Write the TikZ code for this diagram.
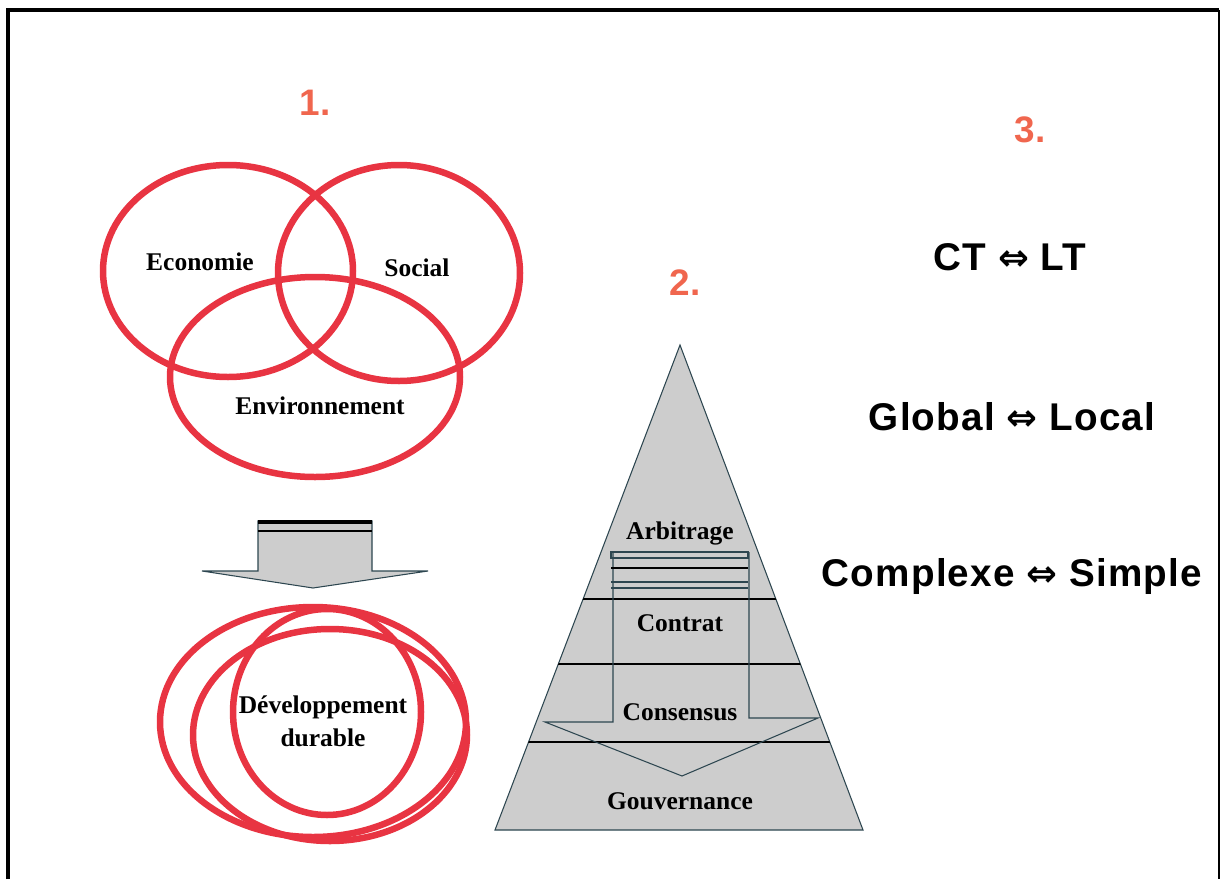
\documentclass[tikz,border=0pt]{standalone}
\usepackage{fontspec}
\setmainfont{Liberation Serif}
\setsansfont{Liberation Sans}
\newfontfamily\arrowfont{DejaVu Sans}
\newcommand{\dblarrow}{{\arrowfont\fontsize{21}{21}\selectfont ⇔}}
\definecolor{ringred}{RGB}{232,52,66}
\definecolor{numred}{RGB}{240,102,78}
\definecolor{pyrgray}{RGB}{205,205,205}
\definecolor{pyredge}{RGB}{45,70,80}

\begin{document}
\begin{tikzpicture}[x=0.02cm,y=-0.02cm,ring/.style={draw=ringred,line width=0.13cm},word/.style={font=\fontsize{14.5}{19}\selectfont\bfseries,inner sep=1pt,align=center},num/.style={font=\fontsize{21}{21}\selectfont\sffamily\bfseries,text=numred},pair/.style={font=\fontsize{22}{22}\selectfont\sffamily\bfseries\addfontfeature{LetterSpace=3}},block/.style={fill=pyrgray,draw=pyredge,line width=0.6pt}]
\def\ya{599};
\def\yb{664};
\def\yc{742};

\useasboundingbox (0,0) rectangle (1220,879);
\draw[line width=0.08cm] (8,879) -- (8,10) -- (1219,10);
\draw[line width=0.03cm] (1219,10) -- (1219,879);

% 1. the three rings
\node[num] (n1) at (315,103) {1.};
\draw[ring] (228,271) ellipse [x radius=125,y radius=106];
\draw[ring] (399,273) ellipse [x radius=121,y radius=108];
\draw[ring] (315,377) ellipse [x radius=145,y radius=100];
\node[word] (eco) at (200,262) {Economie};
\node[word] (soc) at (417,268) {Social};
\node[word] (env) at (320,406) {Environnement};

\draw[block] (258,521) -- (372,521) -- (372,571) -- (428,571) -- (313,588) -- (202,571) -- (258,571) -- cycle;
\draw[line width=2pt] (258,522) -- (372,522);
\draw[line width=1.2pt] (258,531) -- (372,531);

\draw[ring] (313,722) ellipse [x radius=153,y radius=115];
\draw[ring] (330,735) ellipse [x radius=137,y radius=106];
\draw[ring] (327,712) ellipse [x radius=94,y radius=103];
\node[word] (dd) at (323,721) {Développement\\durable};

% 2. pyramid
\node[num] (n2) at (685,283) {2.};
\coordinate (apex) at (680,345);
\coordinate (bl) at (495,830);
\coordinate (br) at (863,830);
\draw[block] (apex) -- (br) -- (bl) -- cycle;
\begin{scope}
\clip (apex) -- (br) -- (bl) -- cycle;
\foreach \yy in {\ya,\yb,\yc}
  \draw[line width=0.8pt] (480,\yy) -- (880,\yy);
\draw[draw=pyredge,line width=0.6pt] (613,552) -- (613,722) -- (545,722) -- (682,776) -- (818,718) -- (749,718) -- (749,552);
\draw[draw=pyredge,line width=0.6pt] (611,552) rectangle (748,558);
\draw[line width=0.8pt] (611,568) -- (748,568);
\draw[draw=pyredge,line width=0.6pt] (611,582) -- (748,582);
\draw[draw=pyredge,line width=0.6pt] (611,588) -- (748,588);
\end{scope}
\node[word] (arb) at (680,533) {Arbitrage};
\node[word] (con) at (680,623) {Contrat};
\node[word] (cns) at (680,712) {Consensus};
\node[word] (gov) at (680,801) {Gouvernance};

% 3. pairs
\node[num] (n3) at (1030,130) {3.};
\node[pair] (ct) at (1010,257) {CT \dblarrow{} LT};
\node[pair] (gl) at (1012,417) {Global \dblarrow{} Local};
\node[pair] (cs) at (1012,576) {Complexe \dblarrow{} Simple};
\end{tikzpicture}
\end{document}
